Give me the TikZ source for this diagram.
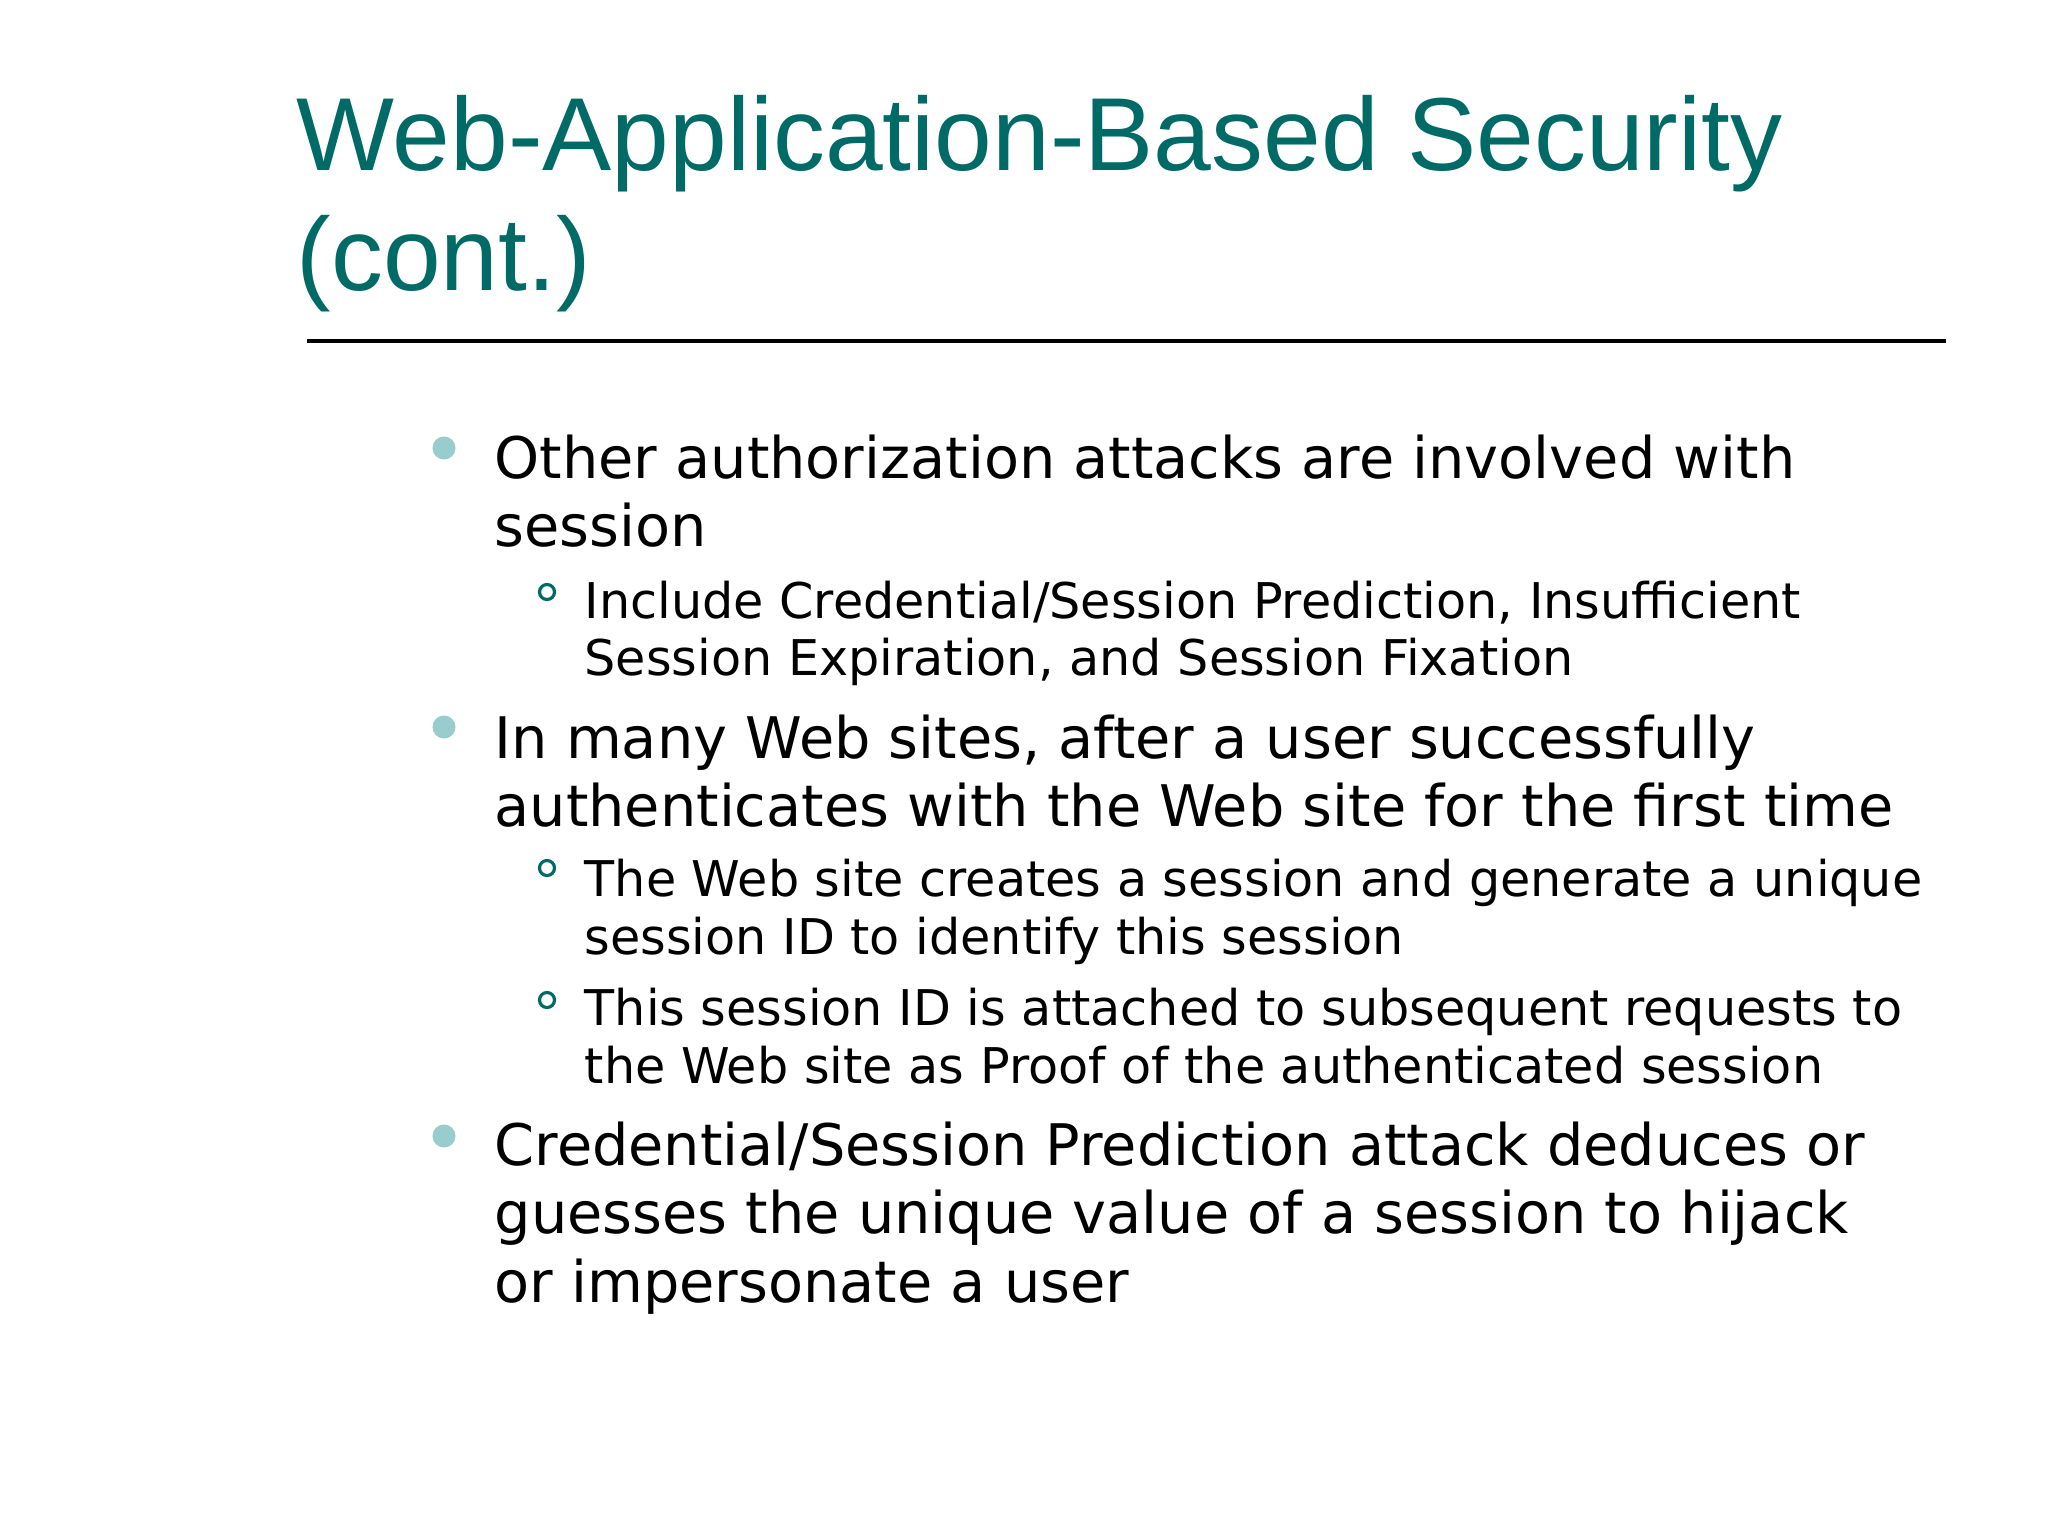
\documentclass[tikz,border=0pt]{standalone}
\usepackage{fontspec}
\setmainfont{DejaVu Sans}
\newfontfamily\titlefont{Liberation Sans}
\definecolor{ttl}{HTML}{006A66}
\definecolor{dot}{HTML}{99CCCC}
\begin{document}
\begin{tikzpicture}[x=0.01cm,y=-0.01cm,
  ttext/.style={anchor=base west,inner sep=0,font=\titlefont\fontsize{29.5}{34}\selectfont,text=ttl},
  btext/.style={anchor=base west,inner sep=0,font=\fontsize{16.3}{20}\selectfont},
  stext/.style={anchor=base west,inner sep=0,font=\fontsize{14}{17}\selectfont},
  bdot/.style={circle,fill=dot,inner sep=0,minimum size=0.23cm},
  sdot/.style={circle,draw=ttl,line width=0.9pt,inner sep=0,minimum size=0.15cm}]
\useasboundingbox[fill=white] (0,0) rectangle (2048,1536);
\node[ttext] (t1) at (296,170) {Web-Application-Based Security};
\node[ttext] (t2) at (296,290) {(cont.)};
\draw[line width=1.2pt] (307,341) coordinate (r1) -- (1946,341) coordinate (r2);
% bullet 1
\node[bdot] (d1) at (444,448) {};
\node[btext] (b1a) at (494,478) {Other authorization attacks are involved with};
\node[btext] (b1b) at (494,546) {session};
\node[sdot] (s1) at (547,592) {};
\node[stext] (s1a) at (584,618) {Include Credential/Session Prediction, Insufficient};
\node[stext] (s1b) at (584,675) {Session Expiration, and Session Fixation};
% bullet 2
\node[bdot] (d2) at (444,727) {};
\node[btext] (b2a) at (494,758) {In many Web sites, after a user successfully};
\node[btext] (b2b) at (494,826) {authenticates with the Web site for the first time};
\node[sdot] (s2) at (547,868) {};
\node[stext] (s2a) at (584,896) {The Web site creates a session and generate a unique};
\node[stext] (s2b) at (584,954) {session ID to identify this session};
\node[sdot] (s3) at (547,1000) {};
\node[stext] (s3a) at (584,1025) {This session ID is attached to subsequent requests to};
\node[stext] (s3b) at (584,1083) {the Web site as Proof of the authenticated session};
% bullet 3
\node[bdot] (d3) at (444,1136) {};
\node[btext] (b3a) at (494,1165) {Credential/Session Prediction attack deduces or};
\node[btext] (b3b) at (494,1233) {guesses the unique value of a session to hijack};
\node[btext] (b3c) at (494,1302) {or impersonate a user};
\end{tikzpicture}
\end{document}
